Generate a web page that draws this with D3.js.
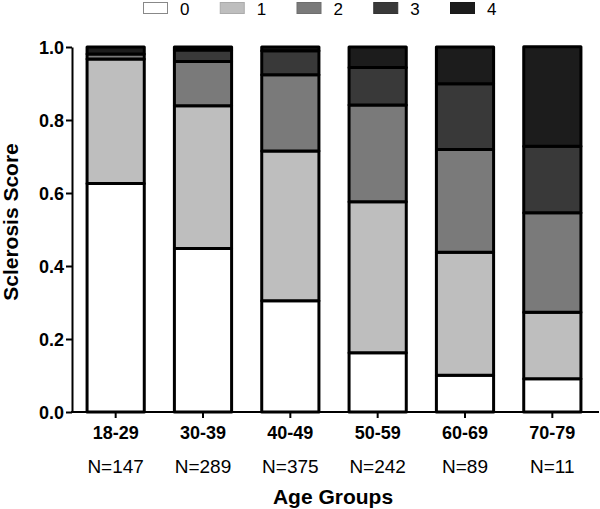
<!DOCTYPE html>
<html>
<head>
<meta charset="utf-8">
<script src="https://cdn.jsdelivr.net/npm/d3@7"></script>
<style>
  html, body { margin: 0; padding: 0; background: #fff; }
  svg { display: block; font-family: "Liberation Sans", Arial, sans-serif; }
</style>
</head>
<body>
<svg id="chart" width="600" height="509"></svg>
<script>
// ---- data ----
const categories = ["18-29", "30-39", "40-49", "50-59", "60-69", "70-79"];
const sampleSizes = ["N=147", "N=289", "N=375", "N=242", "N=89", "N=11"];
const scoreKeys = ["0", "1", "2", "3", "4"];
const score0 = [0.626, 0.448, 0.305, 0.162, 0.101, 0.091];
const score1 = [0.341, 0.391, 0.410, 0.414, 0.337, 0.182];
const score2 = [0.014, 0.121, 0.209, 0.265, 0.281, 0.273];
const score3 = [0.000, 0.032, 0.066, 0.103, 0.180, 0.182];
const score4 = [0.019, 0.008, 0.010, 0.056, 0.101, 0.273];
const yTicks = [0, 0.2, 0.4, 0.6, 0.8, 1.0];
const fills = ["#ffffff", "#bebebe", "#7a7a7a", "#393939", "#1c1c1c"];

const seriesVals = [score0, score1, score2, score3, score4];
const table = categories.map((c, i) => {
  const row = { cat: c, n: sampleSizes[i] };
  scoreKeys.forEach((k, j) => row[k] = seriesVals[j][i]);
  return row;
});

const svg = d3.select("#chart");
const x = d3.scaleBand().domain(categories).range([72, 596]).paddingInner(0.345).paddingOuter(0.1725);
const y = d3.scaleLinear().domain([0, 1]).range([412, 47]);
const color = d3.scaleOrdinal().domain(scoreKeys).range(fills);

const stacked = d3.stack().keys(scoreKeys)(table);

// bars
const g = svg.append("g");
stacked.forEach(layer => {
  g.selectAll(null).data(layer).enter().append("rect")
    .attr("x", d => x(d.data.cat))
    .attr("width", x.bandwidth())
    .attr("y", d => y(d[1]))
    .attr("height", d => y(d[0]) - y(d[1]))
    .attr("fill", color(layer.key))
    .attr("stroke", "#000")
    .attr("stroke-width", 3)
    .attr("stroke-linejoin", "round");
});

// y axis
const yAxis = svg.append("g").attr("transform", "translate(72,0)")
  .call(d3.axisLeft(y).tickValues(yTicks).tickFormat(d3.format(".1f")).tickSize(6).tickSizeOuter(0).tickPadding(2));
yAxis.select(".domain").attr("stroke", "#000").attr("stroke-width", 2);
yAxis.selectAll(".tick line").attr("stroke", "#000").attr("stroke-width", 2);
yAxis.selectAll(".tick text").attr("font-size", 18).attr("font-weight", "bold").attr("fill", "#000")
  .attr("font-family", "'Liberation Sans', Arial, sans-serif").attr("dy", "0.36em");

// x axis
const xAxis = svg.append("g").attr("transform", "translate(0,412)")
  .call(d3.axisBottom(x).tickSize(6).tickSizeOuter(0).tickPadding(8));
xAxis.select(".domain").attr("d", "M71,0H599").attr("stroke", "#000").attr("stroke-width", 2);
xAxis.selectAll(".tick line").attr("stroke", "#000").attr("stroke-width", 2);
xAxis.selectAll(".tick text").attr("font-size", 18).attr("font-weight", "bold").attr("fill", "#000")
  .attr("font-family", "'Liberation Sans', Arial, sans-serif").attr("dy", "0.72em");

// N labels
svg.append("g").selectAll("text").data(table).enter().append("text")
  .attr("x", d => x(d.cat) + x.bandwidth() / 2)
  .attr("y", 473)
  .attr("text-anchor", "middle")
  .attr("font-size", 19)
  .attr("fill", "#000")
  .text(d => d.n);

// axis titles
svg.append("text")
  .attr("x", 333).attr("y", 504)
  .attr("text-anchor", "middle")
  .attr("font-size", 21).attr("font-weight", "bold")
  .text("Age Groups");

svg.append("text")
  .attr("transform", "translate(18,222) rotate(-90)")
  .attr("text-anchor", "middle")
  .attr("font-size", 21).attr("font-weight", "bold")
  .text("Sclerosis Score");

// legend
const lx = d3.scalePoint().domain(scoreKeys).range([143, 450]);
const leg = svg.append("g").selectAll("g").data(scoreKeys).enter().append("g")
  .attr("transform", d => `translate(${lx(d)},0)`);
leg.append("rect")
  .attr("x", 0.5).attr("y", 2.5).attr("width", 24).attr("height", 11)
  .attr("fill", d => color(d))
  .attr("stroke", d => d === "0" ? "#888" : d3.color(color(d)).darker(0.3))
  .attr("stroke-width", 1);
leg.append("text")
  .attr("x", 37).attr("y", 14.5)
  .attr("font-size", 17)
  .attr("fill", "#000")
  .text(d => d);
</script>
</body>
</html>
